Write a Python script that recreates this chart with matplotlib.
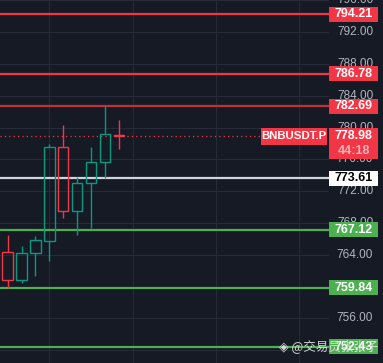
"""
plot.py
BNBUSDT.P - bougies 4h avec niveaux de support / résistance
"""

import matplotlib
matplotlib.use('Agg')
import matplotlib.pyplot as plt
from matplotlib.patches import Rectangle
from matplotlib import transforms

# Données des bougies
opens  = [764.41, 760.89, 764.29, 765.75, 777.50, 769.52, 772.97, 775.61, 779.10]
highs  = [766.47, 765.08, 766.34, 777.91, 780.30, 773.72, 777.53, 782.75, 780.93]
lows   = [759.89, 760.47, 761.31, 763.23, 768.64, 766.47, 767.38, 773.67, 777.32]
closes = [760.89, 764.29, 765.80, 777.50, 769.52, 772.97, 775.61, 779.17, 778.98]

# Niveaux horizontaux
resist_levels = [794.21, 786.78, 782.69]
support_levels = [767.12, 759.84, 752.43]
pivot_level = 773.61
last_price = 778.98
symbol = "BNBUSDT.P"
countdown = "44:18"
price_ticks = [796, 792, 788, 784, 780, 776, 772, 768, 764, 760, 756, 752]
watermark = "@交易员张张子"

BG = '#161a25'
GRID = '#262b37'
UP = '#089981'
DOWN = '#f23645'
GREEN_LINE = '#4caf50'
TICK_COL = '#b2b5be'

W, H = 383, 363
fig = plt.figure(figsize=(W / 100, H / 100), dpi=100, facecolor=BG)
ax = fig.add_axes([0, 0, 329 / W, 1])
ax.set_facecolor(BG)
ax.set_xlim(-0.55, 23.14)
ax.set_ylim(750.4, 796.03)
for s in ax.spines.values():
    s.set_visible(False)
ax.set_xticks([])
ax.set_yticks([])

# grille
for p in price_ticks:
    ax.axhline(p, color=GRID, lw=0.8, zorder=0)
for gx in [3, 9, 15, 21]:
    ax.axvline(gx, color=GRID, lw=0.8, zorder=0)

# bougies creuses
bw = 0.75
for i, (o, h, l, c) in enumerate(zip(opens, highs, lows, closes)):
    col = UP if c >= o else DOWN
    top, bot = max(o, c), min(o, c)
    ax.plot([i, i], [top, h], color=col, lw=1.0, zorder=3, solid_capstyle='butt')
    ax.plot([i, i], [l, bot], color=col, lw=1.0, zorder=3, solid_capstyle='butt')
    ax.add_patch(Rectangle((i - bw / 2, bot), bw, max(top - bot, 0.08),
                           facecolor='none' if top - bot > 0.3 else col,
                           edgecolor=col, lw=1.0, zorder=3))

# lignes horizontales
res_cols = [DOWN, DOWN, '#c2303b']
for lv, col in zip(resist_levels, res_cols):
    ax.axhline(lv, color=col, lw=1.6, zorder=2)
for lv in support_levels:
    ax.axhline(lv, color=GREEN_LINE, lw=1.6, zorder=2)
ax.axhline(pivot_level, color='#d1d4dc', lw=1.6, zorder=2)
ax.plot([-0.55, (261 - 7.6) / 13.89], [last_price, last_price], color=DOWN,
        lw=0.9, ls=(0, (1, 2.5)), zorder=2)

# axe des prix à droite
tr = transforms.blended_transform_factory(fig.transFigure, ax.transData)
for p in price_ticks:
    ax.text(355 / W, p, f"{p:.2f}", transform=tr, ha='center', va='center',
            color=TICK_COL, fontsize=8.5, family='Liberation Sans', clip_on=False, zorder=5)

u = 7.95  # pixels par unité de prix
bx0, bx1 = 329 / W, 378 / W
bh = 15 / u
FS = 9


def price_box(lv, fc, tc, text):
    ax.add_patch(Rectangle((bx0, lv - bh / 2), bx1 - bx0, bh, transform=tr,
                           facecolor=fc, edgecolor='none', clip_on=False, zorder=6))
    ax.text((bx0 + bx1) / 2, lv, text, transform=tr, ha='center', va='center',
            color=tc, fontsize=FS, family='Liberation Sans', fontweight='bold',
            clip_on=False, zorder=7)


for lv in resist_levels:
    price_box(lv, DOWN, 'white', f"{lv:.2f}")
for lv in support_levels:
    price_box(lv, GREEN_LINE, 'white', f"{lv:.2f}")
price_box(pivot_level, 'white', 'black', f"{pivot_level:.2f}")

# prix courant + compte à rebours
ax.add_patch(Rectangle((bx0, last_price - 23 / u), bx1 - bx0, 31 / u, transform=tr,
                       facecolor=DOWN, edgecolor='none', clip_on=False, zorder=6))
ax.text((bx0 + bx1) / 2, last_price, f"{last_price:.2f}", transform=tr, ha='center',
        va='center', color='white', fontsize=FS, family='Liberation Sans',
        fontweight='bold', clip_on=False, zorder=7)
ax.text((bx0 + bx1) / 2, last_price - 15 / u, countdown, transform=tr, ha='center',
        va='center', color='#f7b4ba', fontsize=FS, family='Liberation Sans',
        fontweight='bold', clip_on=False, zorder=7)
ax.add_patch(Rectangle((261 / W, last_price - 9 / u), 66 / W, 17 / u, transform=tr,
                       facecolor=DOWN, edgecolor='none', clip_on=False, zorder=6))
ax.text(294 / W, last_price, symbol, transform=tr, ha='center', va='center',
        color='white', fontsize=8.2, family='Liberation Sans', fontweight='bold',
        clip_on=False, zorder=7)

# filigrane
fig.text(279 / W, 1 - 346 / H, "◈ " + watermark, ha='left', va='center',
         color='#e6e6e6', alpha=0.9, fontsize=9,
         family=['Noto Sans CJK SC', 'DejaVu Sans'], zorder=10)

fig.savefig('out.png', dpi=100, facecolor=BG)
